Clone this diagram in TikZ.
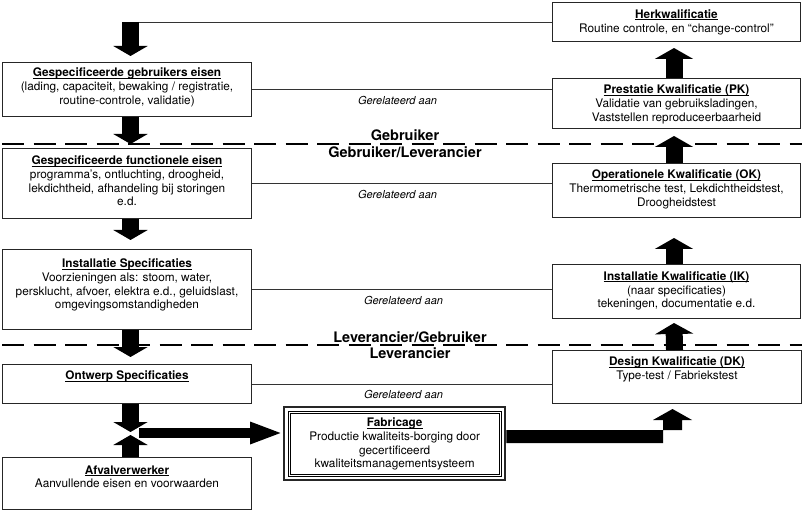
\documentclass[tikz,border=0pt]{standalone}
\usepackage{fontspec}
\setmainfont{TeX Gyre Heros}
\usetikzlibrary{arrows.meta,calc}
\newcommand\myul[1]{\setbox0\hbox{#1}\rlap{\rule[-1.6pt]{\wd0}{0.7pt}}\box0}
\newcommand\ttl[1]{\myul{\textbf{#1}}}
\begin{document}
\begin{tikzpicture}[x=1pt,y=-1pt,
  box/.style={draw=black!85, line width=1pt, fill=white, inner sep=0pt, anchor=north west},
  txt/.style={anchor=north, inner sep=0pt, align=center, font=\fontsize{11.8}{13.6}\selectfont},
  rel/.style={draw=black!80, line width=0.9pt},
  rellab/.style={font=\fontsize{11}{13}\selectfont\itshape, inner sep=0pt, below=6pt},
  blkL/.style={line width=17pt, -{Triangle[width=34pt,length=10pt]}},
  blkR/.style={line width=17pt, -{Triangle[width=38pt,length=11pt]}},
  sepline/.style={dash pattern=on 22pt off 9.5pt, line width=1.1pt},
  role/.style={font=\fontsize{14.5}{16}\selectfont\bfseries, inner sep=0pt, anchor=base}
]
\useasboundingbox (0,0) rectangle (802,510);

% separator lines
\draw[sepline] (2,144) -- (802,144);
\draw[sepline] (2,345) -- (802,345);

% left column boxes
\node[box, minimum width=249pt, minimum height=54pt] (b1) at (2,62) {};
\node[box, minimum width=249pt, minimum height=70pt] (b2) at (2,148) {};
\node[box, minimum width=249pt, minimum height=80pt] (b3) at (2,249) {};
\node[box, minimum width=249pt, minimum height=39pt] (b4) at (2,364) {};
\node[box, minimum width=249pt, minimum height=52pt] (b5) at (2,457) {};

% right column boxes
\node[box, minimum width=248pt, minimum height=39pt] (r1) at (552,2) {};
\node[box, minimum width=248pt, minimum height=50pt] (r2) at (552,78) {};
\node[box, minimum width=248pt, minimum height=54pt] (r3) at (552,163) {};
\node[box, minimum width=248pt, minimum height=54pt] (r4) at (552,264) {};
\node[box, minimum width=249pt, minimum height=53pt] (r5) at (552,350) {};

% fabricage
\node[box, minimum width=221pt, minimum height=73pt, line width=2.4pt] (fab) at (283,406) {};
\draw[line width=0.9pt] ($(fab.north west)+(5,5)$) rectangle ($(fab.south east)+(-5,-5)$);
\draw[line width=0.7pt] ($(fab.north west)+(7.5,7.5)$) rectangle ($(fab.south east)+(-7.5,-7.5)$);

% texts
\node[txt] (t1) at ($(b1.north)+(0,6)$) {\ttl{Gespecificeerde gebruikers eisen}\\(lading, capaciteit, bewaking / registratie,\\routine-controle, validatie)};
\node[txt] (t2) at ($(b2.north)+(0,8)$) {\ttl{Gespecificeerde functionele eisen}\\programma's, ontluchting, droogheid,\\lekdichtheid, afhandeling bij storingen\\e.d.};
\node[txt] (t3) at ($(b3.north)+(0,10)$) {\ttl{Installatie Specificaties}\\Voorzieningen als: stoom, water,\\persklucht, afvoer, elektra e.d., geluidslast,\\omgevingsomstandigheden};
\node[txt] (t4) at ($(b4.north)+(0,7)$) {\ttl{Ontwerp Specificaties}};
\node[txt] (t5) at ($(b5.north)+(0,8.5)$) {\ttl{Afvalverwerker}\\Aanvullende eisen en voorwaarden};
\node[txt] (s1) at ($(r1.north)+(0,7.5)$) {\ttl{Herkwalificatie}\\Routine controle, en “change-control”};
\node[txt] (s2) at ($(r2.north)+(0,7)$) {\ttl{Prestatie Kwalificatie (PK)}\\Validatie van gebruiksladingen,\\Vaststellen reproduceerbaarheid};
\node[txt] (s3) at ($(r3.north)+(0,7)$) {\ttl{Operationele Kwalificatie (OK)}\\Thermometrische test, Lekdichtheidstest,\\Droogheidstest};
\node[txt] (s4) at ($(r4.north)+(0,7.5)$) {\ttl{Installatie Kwalificatie (IK)}\\(naar specificaties)\\tekeningen, documentatie e.d.};
\node[txt] (s5) at ($(r5.north)+(0,7)$) {\ttl{Design Kwalificatie (DK)}\\Type-test / Fabriekstest};
\node[txt] (tf) at ($(fab.north)+(0,12)$) {\ttl{Fabricage}\\Productie kwaliteits-borging door\\gecertificeerd\\kwaliteitsmanagementsysteem};

% role labels
\node[role] (g1) at (405,141) {Gebruiker};
\node[role] (g2) at (405,158) {Gebruiker/Leverancier};
\node[role] (g3) at (410,342) {Leverancier/Gebruiker};
\node[role] (g4) at (410,358) {Leverancier};

% relation lines
\coordinate (fb) at (138,22);
\draw[rel] (fb) -- (r1.west |- fb);
\draw[rel] (b1.east) -- (b1.east -| r2.west) node[rellab, pos=0.485] (l1) {Gerelateerd aan};
\draw[rel] (b2.east) -- (b2.east -| r3.west) node[rellab, pos=0.485] (l2) {Gerelateerd aan};
\draw[rel] (b3.east) -- (b3.east -| r4.west) node[rellab, pos=0.505] (l3) {Gerelateerd aan};
\draw[rel] (b4.east) -- (b4.east -| r5.west) node[rellab, pos=0.505] (l4) {Gerelateerd aan};

% left block arrows
\draw[blkL] ([xshift=3.5pt,yshift=40pt]b1.north) -- ([xshift=3.5pt,yshift=6pt]b1.north);
\draw[blkL] ([xshift=3.5pt]b1.south) -- ([xshift=3.5pt,yshift=4pt]b2.north);
\draw[blkL] ([xshift=3.5pt]b2.south) -- ([xshift=3.5pt,yshift=9pt]b3.north);
\draw[blkL] ([xshift=3.5pt]b3.south) -- ([xshift=3.5pt,yshift=7pt]b4.north);
\draw[blkL] ([xshift=3.5pt]b4.south) -- ([xshift=3.5pt,yshift=-28pt]b4.south);
\draw[blkL] ([xshift=3.5pt]b5.north) -- ([xshift=3.5pt,yshift=22pt]b5.north);

% right block arrows
\draw[blkR] ([xshift=-2.5pt]r2.north) -- ([xshift=-2.5pt,yshift=-6pt]r1.south);
\draw[blkR] ([xshift=-2.5pt]r3.north) -- ([xshift=-2.5pt,yshift=-7pt]r2.south);
\draw[blkR] ([xshift=-2.5pt]r4.north) -- ([xshift=-2.5pt,yshift=-20pt]r3.south);
\draw[blkR] ([xshift=-2.5pt]r5.north) -- ([xshift=-2.5pt,yshift=-4pt]r4.south);

% junction arrow to fabricage
\coordinate (jn) at (139,433);
\draw[line width=10pt, -{Triangle[width=20pt,length=33pt]}] (jn) -- (fab.west |- jn);

% fabricage to design qualification
\fill (fab.east |- 0,430) -- (682,430) -- (682,420) -- (692,420) -- (672.5,409) -- (653,420) -- (663,420) -- (663,443) -- (fab.east |- 0,443) -- cycle;
\end{tikzpicture}
\end{document}
